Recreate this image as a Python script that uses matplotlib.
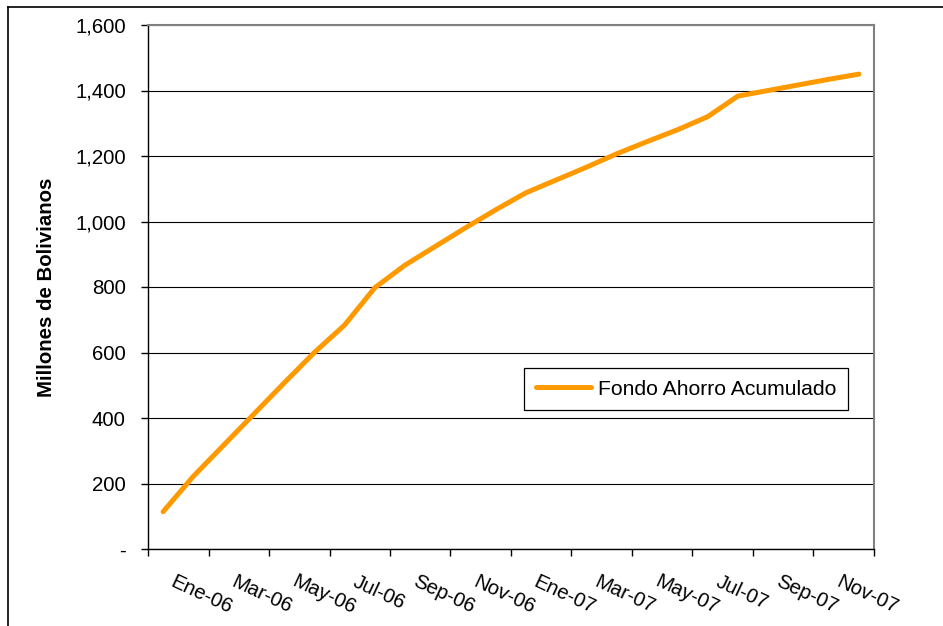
import matplotlib
matplotlib.use("Agg")
import matplotlib.pyplot as plt
import matplotlib.transforms as mtransforms
from matplotlib.lines import Line2D
from matplotlib.ticker import FixedLocator, FuncFormatter

months = ["Ene-06", "Feb-06", "Mar-06", "Abr-06", "May-06", "Jun-06", "Jul-06", "Ago-06",
          "Sep-06", "Oct-06", "Nov-06", "Dic-06", "Ene-07", "Feb-07", "Mar-07", "Abr-07",
          "May-07", "Jun-07", "Jul-07", "Ago-07", "Sep-07", "Oct-07", "Nov-07", "Dic-07"]
fondo = [114, 222, 317, 412, 507, 600, 684, 798, 867, 924, 981, 1036,
         1088, 1127, 1166, 1207, 1244, 1280, 1320, 1383, 1400, 1417, 1434, 1450]
series_name = "Fondo Ahorro Acumulado"
y_ticks = [0, 200, 400, 600, 800, 1000, 1200, 1400, 1600]
ylabel = "Millones de Bolivianos"

W, H, DPI = 943, 626, 100
FS = 14.7
plt.rcParams['font.family'] = ['Liberation Sans', 'DejaVu Sans']

fig = plt.figure(figsize=(W / DPI, H / DPI), dpi=DPI)
ax = fig.add_axes([148 / W, 1 - 549 / H, (874 - 148) / W, (549 - 25) / H])

x = list(range(len(fondo)))
ax.plot(x, fondo, color='#FF9900', lw=3.6, solid_capstyle='round',
        solid_joinstyle='round', label=series_name, zorder=3)

ax.set_xlim(-0.5, len(fondo) - 0.5)
ax.set_ylim(0, 1600)

# y axis
ax.yaxis.set_major_locator(FixedLocator(y_ticks))
ax.yaxis.set_major_formatter(FuncFormatter(lambda v, p: "-" if v == 0 else f"{int(v):,}"))
ax.tick_params(axis='y', which='major', direction='out', length=5, width=1,
               labelsize=FS, pad=11, color='black')
ax.grid(axis='y', color='black', lw=0.8, zorder=1)

# x axis: major ticks at category boundaries, labels at every 2nd category
bounds = [i - 0.5 for i in range(0, len(fondo) + 1, 2)]
ax.xaxis.set_major_locator(FixedLocator(bounds))
ax.xaxis.set_major_formatter(FuncFormatter(lambda v, p: ""))
ax.tick_params(axis='x', which='major', direction='out', length=5, width=1, color='black')
label_pos = list(range(0, len(fondo), 2))
ax.xaxis.set_minor_locator(FixedLocator(label_pos))
ax.set_xticks(label_pos, [months[i] for i in label_pos], minor=True)
ax.tick_params(axis='x', which='minor', length=0, pad=16.5, labelsize=FS)
offset = mtransforms.ScaledTranslation(13 / DPI, 0, fig.dpi_scale_trans)
for lab in ax.xaxis.get_minorticklabels():
    lab.set_rotation(-25)
    lab.set_ha('left')
    lab.set_va('top')
    lab.set_rotation_mode('anchor')
    lab.set_transform(lab.get_transform() + offset)

ax.set_ylabel(ylabel, fontsize=FS, fontweight='bold', labelpad=14)

for s in ['left', 'bottom']:
    ax.spines[s].set_color('black')
    ax.spines[s].set_linewidth(1.0)
for s in ['right', 'top']:
    ax.spines[s].set_color('#808080')
    ax.spines[s].set_linewidth(1.5)

leg = ax.legend(loc='upper left', bbox_to_anchor=(524 / W, 1 - 368 / H),
                bbox_transform=fig.transFigure, borderaxespad=0, fontsize=15.2,
                frameon=True, fancybox=False, edgecolor='black', framealpha=1,
                handlelength=2.6, handletextpad=0.35, borderpad=0.55)
leg.get_frame().set_linewidth(0.9)

# outer figure frame (top and left visible)
fig.add_artist(Line2D([8 / W, 1.0], [1 - 7 / H, 1 - 7 / H], color='black', lw=1.2,
                      transform=fig.transFigure))
fig.add_artist(Line2D([8 / W, 8 / W], [0, 1 - 7 / H], color='black', lw=1.2,
                      transform=fig.transFigure))

fig.savefig("out.png", dpi=DPI)
